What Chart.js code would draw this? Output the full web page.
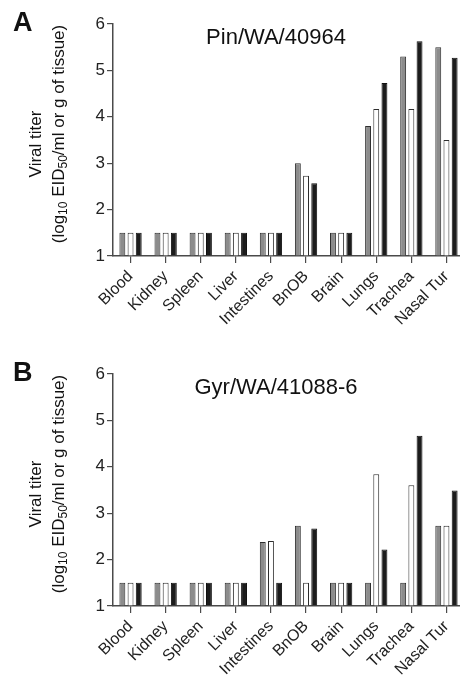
<!DOCTYPE html>
<html>
<head>
<meta charset="utf-8">
<script src="https://cdn.jsdelivr.net/npm/chart.js@4.4.1/dist/chart.umd.min.js"></script>
<style>
  html, body { margin: 0; padding: 0; background: #fff; overflow: hidden; }
  canvas { display: block; }
</style>
</head>
<body>
<canvas id="chartA" width="465" height="340"></canvas>
<canvas id="chartB" width="465" height="339"></canvas>
<script>
// tissues on the x axis
const tissues = ['Blood', 'Kidney', 'Spleen', 'Liver', 'Intestines', 'BnOB', 'Brain', 'Lungs', 'Trachea', 'Nasal Tur'];

// Panel A - Pin/WA/40964
const pinGray  = [1.5, 1.5, 1.5, 1.5, 1.5, 3.0, 1.5, 3.8, 5.3, 5.5];
const pinWhite = [1.5, 1.5, 1.5, 1.5, 1.5, 2.73, 1.5, 4.17, 4.17, 3.5];
const pinBlack = [1.5, 1.5, 1.5, 1.5, 1.5, 2.57, 1.5, 4.73, 5.63, 5.27];

// Panel B - Gyr/WA/41088-6
const gyrGray  = [1.5, 1.5, 1.5, 1.5, 2.38, 2.73, 1.5, 1.5, 1.5, 2.73];
const gyrWhite = [1.5, 1.5, 1.5, 1.5, 2.4, 1.5, 1.5, 3.84, 3.6, 2.73];
const gyrBlack = [1.5, 1.5, 1.5, 1.5, 1.5, 2.67, 1.5, 2.22, 4.67, 3.49];

const yMin = 1, yMax = 6, yStep = 1;

const FONT = '"Liberation Sans", Arial, Helvetica, sans-serif';
const AXIS = '#4a4a4a';

// letter, title and the y title (with subscripts) are drawn here
const labelsPlugin = {
  id: 'panelText',
  afterDraw(chart, args, opts) {
    const ctx = chart.ctx;
    const area = chart.chartArea;
    ctx.save();
    ctx.fillStyle = '#111';

    ctx.font = 'bold 27px ' + FONT;
    ctx.textAlign = 'left';
    ctx.textBaseline = 'top';
    ctx.fillText(opts.letter, 13, area.top - 14);

    ctx.font = '22px ' + FONT;
    ctx.textAlign = 'center';
    ctx.textBaseline = 'alphabetic';
    ctx.fillText(opts.title, area.left + 163, area.top + 20);

    const midY = (area.top + area.bottom) / 2;
    ctx.textBaseline = 'middle';
    ctx.save();
    ctx.translate(36, midY + 4);
    ctx.rotate(-Math.PI / 2);
    ctx.font = '17px ' + FONT;
    ctx.textAlign = 'center';
    ctx.fillText('Viral titer', 0, 0);
    ctx.restore();

    const parts = [
      ['(log', false], ['10', true], [' EID', false], ['50', true], ['/ml or g of tissue)', false]
    ];
    ctx.save();
    ctx.translate(59, midY - 6);
    ctx.rotate(-Math.PI / 2);
    ctx.textAlign = 'left';
    let total = 0;
    parts.forEach(p => {
      ctx.font = (p[1] ? '12px ' : '17px ') + FONT;
      total += ctx.measureText(p[0]).width;
    });
    let x = -total / 2;
    parts.forEach(p => {
      ctx.font = (p[1] ? '12px ' : '17px ') + FONT;
      ctx.fillText(p[0], x, p[1] ? 5 : 0);
      x += ctx.measureText(p[0]).width;
    });
    ctx.restore();

    ctx.restore();
  }
};

function makeChart(id, gray, white, black, title, letter, padTop, xHeight) {
  new Chart(document.getElementById(id), {
    type: 'bar',
    data: {
      labels: tissues,
      datasets: [
        { data: gray, backgroundColor: '#8c8c8c', borderColor: '#2e2e2e' },
        { data: white, backgroundColor: '#ffffff', borderColor: '#2e2e2e' },
        { data: black, backgroundColor: '#1c1c1c', borderColor: '#111111' }
      ].map(d => Object.assign(d, {
        borderWidth: 1,
        borderSkipped: 'start',
        base: yMin,
        categoryPercentage: 0.7,
        barPercentage: 0.72
      }))
    },
    options: {
      responsive: false,
      animation: false,
      layout: { padding: { top: padTop, left: 73, right: 1, bottom: 0 } },
      plugins: {
        legend: { display: false },
        tooltip: { enabled: false },
        panelText: { letter: letter, title: title }
      },
      scales: {
        x: {
          offset: true,
          grid: { offset: false, drawOnChartArea: false, drawTicks: true, tickLength: 7, color: AXIS, lineWidth: 1.2 },
          border: { color: AXIS, width: 1.5 },
          ticks: {
            color: '#222',
            font: { family: FONT, size: 16 },
            maxRotation: 45,
            minRotation: 45,
            autoSkip: false,
            padding: 4
          },
          afterFit(s) { s.height = xHeight; }
        },
        y: {
          min: yMin,
          max: yMax,
          grid: { drawOnChartArea: false, drawTicks: true, tickLength: 6, color: AXIS, lineWidth: 1.2 },
          border: { color: AXIS, width: 1.5 },
          ticks: {
            stepSize: yStep,
            color: '#222',
            font: { family: FONT, size: 17 },
            padding: 2
          },
          afterFit(s) { s.width = 40; }
        }
      }
    },
    plugins: [labelsPlugin]
  });
}

makeChart('chartA', pinGray, pinWhite, pinBlack, 'Pin/WA/40964', 'A', 24, 84);
makeChart('chartB', gyrGray, gyrWhite, gyrBlack, 'Gyr/WA/41088-6', 'B', 34, 73);
</script>
</body>
</html>
